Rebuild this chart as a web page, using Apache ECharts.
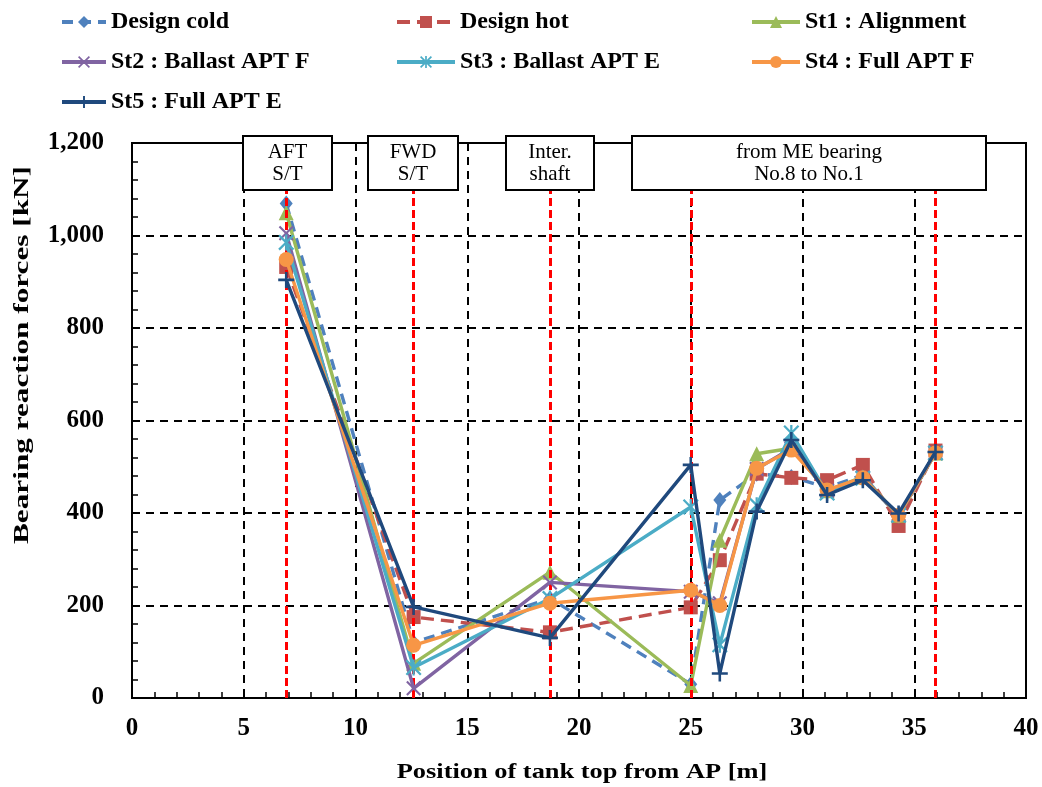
<!DOCTYPE html>
<html><head><meta charset="utf-8">
<script src="https://cdn.jsdelivr.net/npm/echarts@6/dist/echarts.min.js"></script>
<style>html,body{margin:0;padding:0;background:#fff}#c{width:1042px;height:787px}</style>
</head><body><div id="c"></div>
<script>
// Bearing positions [m] and reaction forces [kN]
const positions  = [6.9, 12.6, 18.7, 25.0, 26.3, 27.95, 29.5, 31.1, 32.7, 34.3, 35.95];
const designCold = [1069, 120, 215, 30, 428, 485, 478, 455, 482, 390, 532];
const designHot  = [932, 175, 142, 196, 298, 485, 476, 471, 504, 372, 535];
const st1        = [1049, 75, 272, 27, 341, 528, 540, 448, 478, 395, 530];
const st2        = [1005, 21, 250, 230, 205, 495, 540, 448, 476, 395, 530];
const st3        = [985, 66, 215, 413, 115, 417, 573, 443, 475, 395, 530];
const st4        = [948, 114, 205, 233, 200, 497, 536, 450, 476, 395, 530];
const st5        = [904, 197, 130, 504, 53, 403, 558, 439, 471, 399, 532];
const refLines   = [6.9, 12.6, 18.7, 25.0, 35.95];
const names = ['Design cold', 'Design hot', 'St1 : Alignment', 'St2 : Ballast APT F',
               'St3 : Ballast APT E', 'St4 : Full APT F', 'St5 : Full APT E'];
const boxLabels = ['AFT\nS/T', 'FWD\nS/T', 'Inter.\nshaft', 'from ME bearing\nNo.8 to No.1'];
const xAxisTitle = 'Position of tank top from AP [m]';
const yAxisTitle = 'Bearing reaction forces [kN]';

const SERIF = '"Liberation Serif", "Times New Roman", serif';
const X_SYM = 'path://M1,0L5,4L9,0L10,1L6,5L10,9L9,10L5,6L1,10L0,9L4,5L0,1Z';
const PLUS_SYM = 'path://M4.2,0H5.8V4.2H10V5.8H5.8V10H4.2V5.8H0V4.2H4.2Z';
const STAR_SYM = 'path://M1,0L5,4L9,0L10,1L6,5L10,9L9,10L5,6L1,10L0,9L4,5L0,1Z M4.3,0H5.7V10H4.3Z';

const styles = [
  {color:'#4F81BD', symbol:'diamond', size:[13,16], dash:[11,7]},
  {color:'#C0504D', symbol:'rect', size:14, dash:[13,7]},
  {color:'#9BBB59', symbol:'triangle', size:15, dash:'solid'},
  {color:'#8064A2', symbol:X_SYM, size:15, dash:'solid'},
  {color:'#4BACC6', symbol:STAR_SYM, size:16, dash:'solid'},
  {color:'#F79646', symbol:'circle', size:15, dash:'solid'},
  {color:'#1F497D', symbol:PLUS_SYM, size:16, dash:'solid'}
];
const values = [designCold, designHot, st1, st2, st3, st4, st5];

const series = values.map((vals, i) => ({
  name: names[i], type: 'line',
  data: positions.map((p, k) => [p, vals[k]]),
  symbol: styles[i].symbol, symbolSize: styles[i].size,
  showAllSymbol: true,
  lineStyle: {color: styles[i].color, width: 3.4, type: styles[i].dash},
  itemStyle: {color: styles[i].color},
  z: 2 + i, animation: false
}));
series.push({
  name: 'refs', type: 'line', data: [], z: 20, animation: false,
  markLine: {
    silent: true, symbol: 'none', animation: false,
    label: {show: false},
    lineStyle: {color: '#FF0000', width: 3, type: [8, 4]},
    data: refLines.map(x => [{coord: [x, 0]}, {coord: [x, 1100]}])
  }
});

// [left, top, itemWidth]
const legendPos = [[60, 10, 44], [395, 10, 58], [750, 10, 48],
                   [60, 50, 44], [395, 50, 58], [750, 50, 48],
                   [60, 90, 44]];
const legends = names.map((n, i) => ({
  data: [n], left: legendPos[i][0], top: legendPos[i][1], padding: 0,
  itemWidth: legendPos[i][2], itemHeight: 15, itemGap: 5, selectedMode: false,
  lineStyle: {width: 4},
  textStyle: {fontFamily: SERIF, fontWeight: 'bold', fontSize: 24, color: '#000'}
}));

const axisCommon = {
  axisLine: {show: true, onZero: false, lineStyle: {color: '#000', width: 2}},
  axisTick: {show: true, inside: true, length: 6, lineStyle: {color: '#000', width: 1.5}},
  minorTick: {show: true, splitNumber: 5, length: 6, lineStyle: {color: '#000', width: 1.5}},
  splitLine: {show: true, lineStyle: {color: '#000', width: 2, type: [8, 6]}}
};

const chart = echarts.init(document.getElementById('c'), null, {renderer: 'canvas'});
chart.setOption({
  animation: false,
  backgroundColor: '#fff',
  legend: legends,
  grid: {left: 132, right: 16, top: 143, bottom: 89, show: true,
         borderColor: '#000', borderWidth: 2, containLabel: false},
  xAxis: Object.assign({}, axisCommon, {
    type: 'value', min: 0, max: 40, interval: 5,
    axisLabel: {margin: 18, fontFamily: SERIF, fontWeight: 'bold', fontSize: 25, color: '#000'}
  }),
  yAxis: Object.assign({}, axisCommon, {
    type: 'value', min: 0, max: 1200, interval: 200,
    axisLabel: {margin: 28, fontFamily: SERIF, fontWeight: 'bold', fontSize: 25, color: '#000',
      formatter: v => String(v).replace(/\B(?=(\d{3})+(?!\d))/g, ',')}
  }),
  series: series
});

// annotation boxes above the plot and axis titles
const boxes = [[243, 332], [368, 458], [506, 594], [632, 986]];
const graphics = [];
boxes.forEach((b, i) => {
  graphics.push({type: 'rect', z: 100, shape: {x: b[0], y: 136, width: b[1] - b[0], height: 54},
    style: {fill: '#fff', stroke: '#000', lineWidth: 2}});
  graphics.push({type: 'text', z: 101, style: {text: boxLabels[i], x: (b[0] + b[1]) / 2, y: 163,
    align: 'center', verticalAlign: 'middle', font: '21px ' + SERIF, lineHeight: 22, fill: '#000'}});
});
graphics.push({type: 'text', z: 101, x: 582, y: 772, scaleX: 1.2,
  style: {text: xAxisTitle, align: 'center', verticalAlign: 'middle',
          font: 'bold 22px ' + SERIF, fill: '#000'}});
graphics.push({type: 'text', z: 101, x: 22, y: 355, rotation: Math.PI / 2, scaleX: 1.42,
  style: {text: yAxisTitle, align: 'center', verticalAlign: 'middle',
          font: 'bold 22px ' + SERIF, fill: '#000'}});
chart.setOption({graphic: graphics});
</script></body></html>
